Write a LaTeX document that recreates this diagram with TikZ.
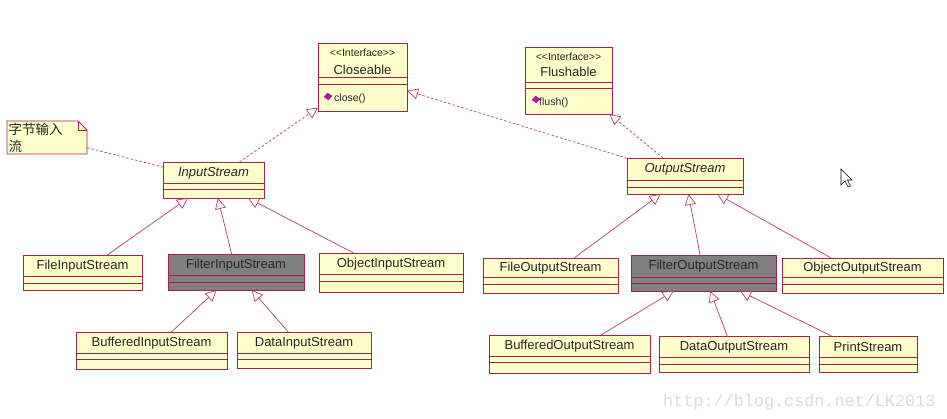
\documentclass[tikz,border=0pt]{standalone}
\usepackage{fontspec}
\setmainfont{Liberation Sans}
\newfontfamily\cjk{Noto Sans CJK SC}
\newfontfamily\wmfont{Liberation Mono}
\usetikzlibrary{arrows.meta,calc}
\definecolor{frame}{HTML}{A3204F}
\definecolor{clsfill}{HTML}{FFFFCC}
\definecolor{conn}{HTML}{B5406C}
\definecolor{filtergray}{HTML}{808080}
\definecolor{opicon}{HTML}{D000C8}
\tikzset{
  cls/.style={draw=frame, fill=clsfill, line width=0.9pt, inner sep=0pt, outer sep=0pt, rectangle},
  graycls/.style={cls, fill=filtergray},
  sepline/.style={draw=frame, line width=0.9pt},
  clsname/.style={font=\fontsize{13}{15}\selectfont, inner sep=0pt, text=black!85},
  stereo/.style={font=\fontsize{10.5}{12}\selectfont, inner sep=0pt, text=black!85},
  opname/.style={font=\fontsize{10.5}{12}\selectfont, inner sep=0pt, anchor=west, text=black!85},
  gen/.style={draw=conn, line width=0.7pt, -{Triangle[open, length=11pt, width=11pt]}},
  real/.style={gen, dash pattern=on 2.5pt off 2pt},
  noteline/.style={draw=conn, line width=0.7pt, dash pattern=on 2.5pt off 2pt},
  icon/.style={fill=opicon, draw=black!70, line width=0.3pt},
}
% #1 style, #2 name, #3 left, #4 top, #5 right, #6 bottom, #7 sep1, #8 sep2, #9 text
\newcommand\umlclass[9][cls]{%
  \node[#1, minimum width={#5-#3}, minimum height={#6-#4}] (#2) at ({(#3+#5)/2},{-(#4+#6)/2}) {};
  \draw[sepline] (#3,-#7) -- (#5,-#7) (#3,-#8) -- (#5,-#8);
  \node[clsname] at ({(#3+#5)/2},{-(#4+#7)/2-0.5}) {#9};
}
\newcommand\ifacelabel{<\kern0pt<Interface>\kern0pt>}
\begin{document}
\begin{tikzpicture}[x=1pt, y=1pt]
\useasboundingbox[fill=white] (0,0) rectangle (947,-419);

% interfaces
\node[cls, minimum width=89, minimum height=68] (closeable) at (362.5,-77) {};
\draw[sepline] (318,-77.5) -- (407,-77.5) (318,-84) -- (407,-84);
\node[stereo] at (362.5,-53) {\ifacelabel};
\node[clsname] at (362.5,-70) {Closeable};
\draw[icon] (324,-97) -- (327.5,-93) -- (332,-96) -- (328.5,-100) -- cycle;
\node[opname] at (334,-98.5) {close()};

\node[cls, minimum width=87, minimum height=67] (flushable) at (568.5,-80.5) {};
\draw[sepline] (525,-82) -- (612,-82) (525,-88) -- (612,-88);
\node[stereo] at (568.5,-57) {\ifacelabel};
\node[clsname] at (568.5,-72) {Flushable};
\draw[icon] (532,-100) -- (535.5,-96) -- (540,-99) -- (536.5,-103) -- cycle;
\node[opname] at (539,-102.5) {flush()};

% abstract classes
\umlclass{is}{163}{162}{264}{198}{183}{189}{\itshape InputStream}
\umlclass{os}{627}{158}{743}{194}{180}{187}{\itshape OutputStream}

% note
\node[minimum width=80, minimum height=33, inner sep=0pt, outer sep=0pt] (note) at (47,-137.5) {};
\draw[draw=frame, fill=clsfill, line width=0.8pt]
  (note.north west) -- ($(note.north east)+(-9,0)$) -- ($(note.north east)+(0,-9)$)
  -- (note.south east) -- (note.south west) -- cycle;
\draw[draw=frame, line width=0.6pt] ($(note.north east)+(-9,0)$) |- ($(note.north east)+(0,-9)$);
\node[inner sep=0pt, anchor=west, font=\cjk\fontsize{13.5}{15}\selectfont, text=black!85] at (8.5,-129) {字节输入};
\node[inner sep=0pt, anchor=west, font=\cjk\fontsize{13.5}{15}\selectfont, text=black!85] at (8.5,-146) {流};

% input side
\umlclass{fis}{23}{255}{142}{290}{276}{283}{FileInputStream}
\umlclass[graycls]{filis}{168}{254}{304}{290}{275}{282}{FilterInputStream}
\umlclass{ois}{319}{253}{463}{292}{274}{281}{ObjectInputStream}
\umlclass{bis}{76}{332}{227}{369}{353}{359}{BufferedInputStream}
\umlclass{dis}{237}{332}{371}{368}{353}{359}{DataInputStream}

% output side
\umlclass{fos}{483}{258}{618}{293}{277}{284}{FileOutputStream}
\umlclass[graycls]{filos}{631}{255}{776}{291}{277}{283}{FilterOutputStream}
\umlclass{oos}{782}{258}{943}{293}{277}{284}{ObjectOutputStream}
\umlclass{bos}{489}{335}{650}{373}{356}{362}{BufferedOutputStream}
\umlclass{dos}{659}{336}{809}{372}{357}{364}{DataOutputStream}
\umlclass{ps}{819}{336}{917}{372}{357}{364}{PrintStream}

% generalizations
\draw[gen] (fis) -- (is);
\draw[gen] (filis) -- (is);
\draw[gen] (ois) -- (is);
\draw[gen] (bis) -- (filis);
\draw[gen] (dis) -- (filis);
\draw[gen] (fos) -- (os);
\draw[gen] (filos) -- (os);
\draw[gen] (oos) -- (os);
\draw[gen] (bos) -- (filos);
\draw[gen] (dos) -- (filos);
\draw[gen] (ps) -- (filos);

% realizations
\draw[real] (is) -- (closeable);
\draw[real] (os) -- (closeable);
\draw[real] (os) -- (flushable);
\draw[noteline] (note) -- (is);

% mouse cursor
\draw[fill=white, draw=black, line width=0.6pt, line join=miter]
  (841,-169) -- (841,-185) -- (845,-181) -- (848,-187) -- (850.5,-186) -- (847.5,-180) -- (852,-180) -- cycle;

% watermark
\node[anchor=base west, inner sep=0pt, text=black!14, font=\wmfont\fontsize{16.8}{18}\selectfont] (wm) at (663,-406) {http://blog.csdn.net/LK2013};
\end{tikzpicture}
\end{document}
